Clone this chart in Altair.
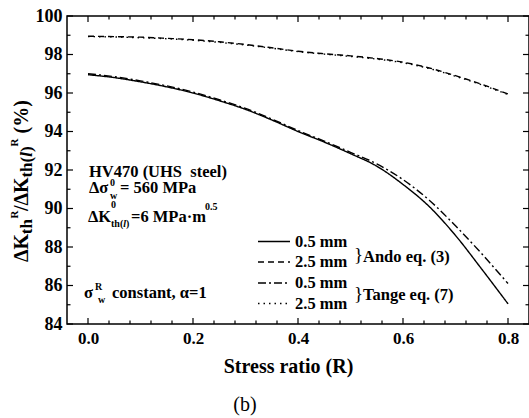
import altair as alt
import pandas as pd

# ---- data ----
R = [0.0, 0.05, 0.1, 0.15, 0.2, 0.25, 0.3, 0.35, 0.4, 0.45, 0.5, 0.55, 0.6, 0.65, 0.7, 0.75, 0.8]
ando_05 = [96.95, 96.8, 96.58, 96.32, 96.0, 95.6, 95.15, 94.6, 94.0, 93.45, 92.85, 92.2, 91.25, 90.1, 88.6, 86.85, 85.05]
ando_25 = [98.95, 98.93, 98.9, 98.84, 98.77, 98.66, 98.52, 98.35, 98.17, 98.04, 97.93, 97.79, 97.6, 97.3, 96.9, 96.45, 95.95]
tange_05 = [97.0, 96.85, 96.63, 96.37, 96.05, 95.65, 95.2, 94.65, 94.05, 93.5, 92.92, 92.32, 91.5, 90.43, 89.1, 87.65, 86.1]
tange_25 = [98.93, 98.91, 98.87, 98.82, 98.74, 98.63, 98.49, 98.33, 98.15, 98.02, 97.9, 97.76, 97.57, 97.27, 96.87, 96.42, 95.92]
series_names = ["Ando 0.5 mm", "Ando 2.5 mm", "Tange 0.5 mm", "Tange 2.5 mm"]
legend_labels = ["0.5 mm", "2.5 mm", "0.5 mm", "2.5 mm"]
x_major = [0.0, 0.2, 0.4, 0.6, 0.8]
x_minor = [0.04, 0.08, 0.12, 0.16, 0.24, 0.28, 0.32, 0.36, 0.44, 0.48, 0.52, 0.56, 0.64, 0.68, 0.72, 0.76]
y_major = [84, 86, 88, 90, 92, 94, 96, 98, 100]
y_minor = [85, 87, 89, 91, 93, 95, 97, 99]

FONT = "'Liberation Serif', 'Times New Roman', serif"
W, H = 462, 308
dashes = [[1, 0], [6, 4], [8, 3, 2, 3], [1.5, 4]]

rows = []
for name, vals in zip(series_names, [ando_05, ando_25, tange_05, tange_25]):
    for r, v in zip(R, vals):
        rows.append({"R": r, "value": v, "series": name})
df = pd.DataFrame(rows)

xscale = alt.Scale(domain=[-0.04, 0.84], nice=False, zero=False)
yscale = alt.Scale(domain=[84, 100], nice=False, zero=False)

xaxis = alt.Axis(
    values=x_major, format=".1f", ticks=False, tickSize=0, domain=False, grid=False,
    labelFont=FONT, labelFontWeight="bold", labelFontSize=17, labelColor="black", labelPadding=6,
    title="Stress ratio (R)", titleFont=FONT, titleFontWeight="bold", titleFontSize=20,
    titleColor="black", titleX=221, titleY=48, titleAlign="center", titleBaseline="alphabetic")
yaxis = alt.Axis(
    values=y_major, format="d", ticks=False, tickSize=0, domain=False, grid=False,
    labelFont=FONT, labelFontWeight="bold", labelFontSize=18, labelColor="black", labelPadding=5,
    title=None)

lines = alt.Chart(df).mark_line(color="black", strokeWidth=1.4, interpolate="monotone").encode(
    x=alt.X("R:Q", scale=xscale, axis=xaxis),
    y=alt.Y("value:Q", scale=yscale, axis=yaxis),
    strokeDash=alt.StrokeDash("series:N", scale=alt.Scale(domain=series_names, range=dashes), legend=None),
)


def xticks(vals, y0, y1):
    return alt.Chart(pd.DataFrame({"R": vals})).mark_rule(color="black", strokeWidth=1.2).encode(
        x=alt.X("R:Q", scale=xscale, axis=xaxis), y=alt.value(y0), y2=alt.value(y1))


def yticks(vals, x0, x1):
    return alt.Chart(pd.DataFrame({"value": vals})).mark_rule(color="black", strokeWidth=1.2).encode(
        y=alt.Y("value:Q", scale=yscale, axis=yaxis), x=alt.value(x0), x2=alt.value(x1))


ticks = [
    xticks(x_major, H, H - 6), xticks(x_minor, H, H - 3.5),
    xticks(x_major, 0, 6), xticks(x_minor, 0, 3.5),
    yticks(y_major, 0, 6), yticks(y_minor, 0, 3.5),
    yticks(y_major, W, W - 6), yticks(y_minor, W, W - 3.5),
]


def txt(s, x, y, size=16.5, weight="bold", align="left", baseline="middle", angle=0, style="normal"):
    kw = dict(text=s, font=FONT, fontSize=size, fontWeight=weight, align=align,
              baseline=baseline, color="black", fontStyle=style)
    if angle:
        kw["angle"] = angle
    return alt.Chart(alt.Data(values=[{}])).mark_text(**kw).encode(
        x=alt.value(x), y=alt.value(y))


texts = [
    # annotation block
    txt("HV470 (UHS\u00a0 steel)", 22, 156),
    txt("\u0394\u03c3", 22, 172),
    txt("0", 43, 167, size=10),
    txt("w", 43, 180, size=10),
    txt("= 560 MPa", 53, 172),
    txt("\u0394K", 21, 201),
    txt("0", 44, 189, size=10),
    txt("th(", 44, 208, size=10),
    txt("l", 56.2, 208, size=10, style="italic"),
    txt(")", 59, 208, size=10),
    txt("=6 MPa\u00b7m", 64, 201),
    txt("0.5", 138, 191, size=10),
    txt("\u03c3", 17, 277),
    txt("R", 28, 271, size=10),
    txt("w", 31, 284, size=10),
    txt("constant, \u03b1=1", 45, 277),
    # legend text
    txt(legend_labels[0], 228, 225.5),
    txt(legend_labels[1], 228, 246),
    txt(legend_labels[2], 228, 267),
    txt(legend_labels[3], 228, 287.5),
    txt("}", 287, 239, size=19, weight="normal"),
    txt("}", 287, 278, size=19, weight="normal"),
    txt("Ando eq. (3)", 296, 240.7),
    txt("Tange eq. (7)", 296, 279),
    # panel label
    txt("(b)", 178, 389, size=20, weight="normal", align="center"),
    # rotated y-axis title pieces
    txt("\u0394K", -39, 246, size=20, baseline="alphabetic", angle=270),
    txt("th", -35, 218.2, size=17, baseline="alphabetic", angle=270),
    txt("R", -49, 202.6, size=11, baseline="alphabetic", angle=270),
    txt("/\u0394K", -39, 195, size=20, baseline="alphabetic", angle=270),
    txt("th(", -35, 161.6, size=17, baseline="alphabetic", angle=270),
    txt("l", -35, 140.8, size=17, baseline="alphabetic", angle=270, style="italic"),
    txt(")", -35, 136.1, size=17, baseline="alphabetic", angle=270),
    txt("R", -49, 130.4, size=11, baseline="alphabetic", angle=270),
    txt("(%)", -39, 117.5, size=20, baseline="alphabetic", angle=270),
]

legend_y = [225.5, 246, 267, 287.5]
legend_lines = []
for d, ly in zip(dashes, legend_y):
    legend_lines.append(
        alt.Chart(alt.Data(values=[{}])).mark_rule(color="black", strokeWidth=1.4, strokeDash=d).encode(
            x=alt.value(191), x2=alt.value(223), y=alt.value(ly)))

chart = alt.layer(lines, *ticks, *legend_lines, *texts).properties(
    width=W, height=H,
    padding={"left": 67, "top": 16, "right": 0, "bottom": 94},
    autosize=alt.AutoSizeParams(type="none"),
).configure_view(stroke="black", strokeWidth=1.5)

chart.save("out.html", embed_options={"renderer": "svg", "actions": False})
